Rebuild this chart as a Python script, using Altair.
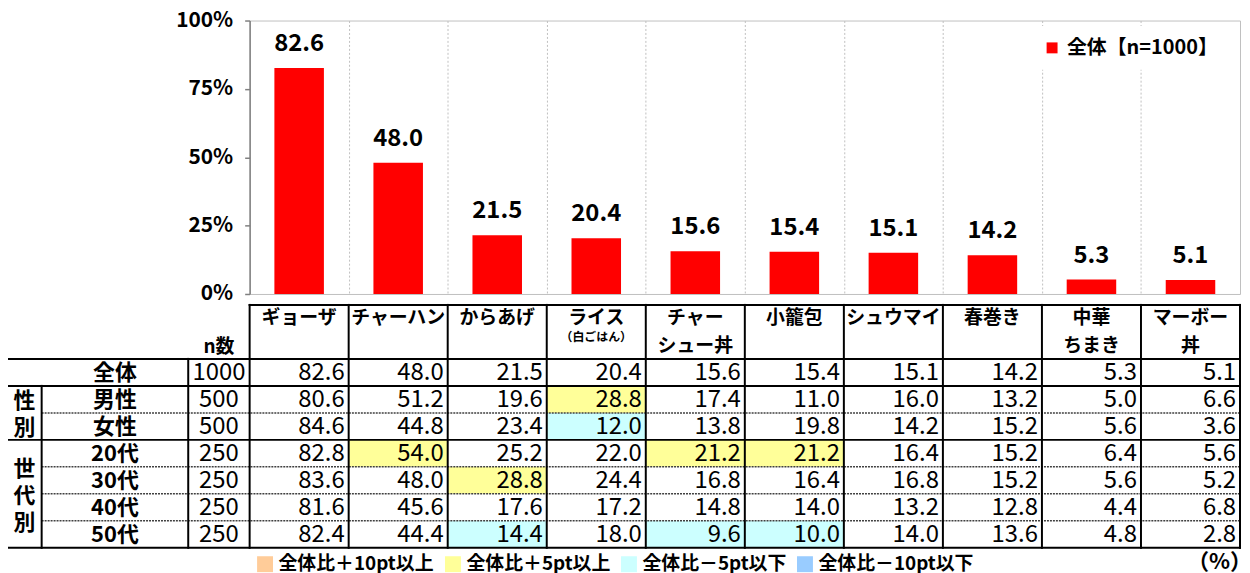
import altair as alt
import pandas as pd

FONT = "Noto Sans CJK JP"

# ---------------- data ----------------
FOODS = ["ギョーザ", "チャーハン", "からあげ", "ライス（白ごはん）", "チャーシュー丼",
         "小籠包", "シュウマイ", "春巻き", "中華ちまき", "マーボー丼"]
HEAD_LINE1 = ["ギョーザ", "チャーハン", "からあげ", "ライス", "チャー",
              "小籠包", "シュウマイ", "春巻き", "中華", "マーボー"]
HEAD_LINE2 = ["", "", "", "", "シュー丼", "", "", "", "ちまき", "丼"]
HEAD_NOTE = ["", "", "", "（白ごはん）", "", "", "", "", "", ""]

SERIES = "全体【n=1000】"
GROUPS = ["全体", "男性", "女性", "20代", "30代", "40代", "50代"]
N_VALUES = [1000, 500, 500, 250, 250, 250, 250]

V_ALL = [82.6, 48.0, 21.5, 20.4, 15.6, 15.4, 15.1, 14.2, 5.3, 5.1]
V_MALE = [80.6, 51.2, 19.6, 28.8, 17.4, 11.0, 16.0, 13.2, 5.0, 6.6]
V_FEMALE = [84.6, 44.8, 23.4, 12.0, 13.8, 19.8, 14.2, 15.2, 5.6, 3.6]
V_20 = [82.8, 54.0, 25.2, 22.0, 21.2, 21.2, 16.4, 15.2, 6.4, 5.6]
V_30 = [83.6, 48.0, 28.8, 24.4, 16.8, 16.4, 16.8, 15.2, 5.6, 5.2]
V_40 = [81.6, 45.6, 17.6, 17.2, 14.8, 14.0, 13.2, 12.8, 4.4, 6.8]
V_50 = [82.4, 44.4, 14.4, 18.0, 9.6, 10.0, 14.0, 13.6, 4.8, 2.8]
TABLE = [V_ALL, V_MALE, V_FEMALE, V_20, V_30, V_40, V_50]

GROUP_SIDE = [("性", "別"), ("世", "代", "別")]

CATS = ["全体比＋10pt以上", "全体比＋5pt以上", "全体比－5pt以下", "全体比－10pt以下"]
CAT_COLORS = ["#FFCC99", "#FFFF99", "#CCFFFF", "#99CCFF"]
UNIT_NOTE = "（%）"

# ---------------- layout constants (table structure, column units) -------
X_LEFT, X_GRP, X_N = -2.45, -2.10, -0.62
NCOL = len(FOODS)
HEADER_ROWS = 2
LAST_ROW = HEADER_ROWS + len(GROUPS)  # 9

XS = alt.Scale(domain=[0, NCOL], nice=False, zero=False)
YB = alt.Scale(domain=[0, 100], nice=False, zero=False)
YT = alt.Scale(domain=[0, LAST_ROW], range=[286, 530.3], nice=False, zero=False)

XAX = alt.Axis(values=list(range(1, NCOL)), grid=True, gridColor="#C0C0C0",
               gridDash=[2, 2], gridWidth=1, labels=False, ticks=False,
               domain=False, title=None)
YAX = alt.Axis(values=[0, 25, 50, 75, 100], labelExpr="datum.value + '%'",
               title=None, grid=False, domainColor="#808080", domainWidth=1.5,
               tickColor="#808080", tickSize=5, tickWidth=1.5, labelPadding=12,
               labelFont=FONT, labelFontSize=21, labelFontWeight="bold",
               labelColor="black")

# ---------------- frames ----------------
df_bar = pd.DataFrame({
    "food": FOODS,
    "value": V_ALL,
    "base": 0,
    "series": SERIES,
    "x0": [i + 0.25 for i in range(NCOL)],
    "x1": [i + 0.75 for i in range(NCOL)],
    "xc": [i + 0.5 for i in range(NCOL)],
})


def cat_of(diff):
    if diff >= 10:
        return CATS[0]
    if diff >= 5:
        return CATS[1]
    if diff <= -10:
        return CATS[3]
    if diff <= -5:
        return CATS[2]
    return None


cells = []
for gi, (g, vals) in enumerate(zip(GROUPS, TABLE)):
    r = HEADER_ROWS + gi
    for ci, v in enumerate(vals):
        d = round(v - V_ALL[ci], 1)
        cells.append({"group": g, "food": FOODS[ci], "v": v,
                      "x0": ci, "x1": ci + 1, "y0": r, "y1": r + 1,
                      "ym": r + 0.5, "cat": cat_of(d) if gi > 0 else None})
df_cells = pd.DataFrame(cells)
df_hl = df_cells.dropna(subset=["cat"])

hdr = []
for ci in range(NCOL):
    hdr.append({"x": ci + 0.5, "y": 0.48, "t": HEAD_LINE1[ci]})
    if HEAD_LINE2[ci]:
        hdr.append({"x": ci + 0.5, "y": 1.53, "t": HEAD_LINE2[ci]})
hdr.append({"x": X_N / 2, "y": 1.55, "t": "n数"})
df_hdr = pd.DataFrame(hdr)
df_note = pd.DataFrame([{"x": ci + 0.5, "y": 1.18, "t": HEAD_NOTE[ci]}
                        for ci in range(NCOL) if HEAD_NOTE[ci]])

df_rowlab = pd.DataFrame({
    "t": GROUPS,
    "x": [(X_GRP + X_N) / 2] * len(GROUPS),
    "y": [HEADER_ROWS + i + 0.5 for i in range(len(GROUPS))],
})
df_n = pd.DataFrame({
    "n": N_VALUES,
    "x": [X_N / 2] * len(GROUPS),
    "y": [HEADER_ROWS + i + 0.5 for i in range(len(GROUPS))],
})
side = []
for ch_i, ch in enumerate(GROUP_SIDE[0]):
    side.append({"t": ch, "y": HEADER_ROWS + 1 + ch_i + 0.5})
for ch_i, ch in enumerate(GROUP_SIDE[1]):
    side.append({"t": ch, "y": HEADER_ROWS + 3 + 1 + ch_i})
df_side = pd.DataFrame(side)
df_side["x"] = (X_LEFT + X_GRP) / 2

df_unit = pd.DataFrame([{"t": UNIT_NOTE, "x": NCOL, "y": LAST_ROW + 0.5}])

solid = [(0, NCOL, 0, 0)]
for c in range(NCOL + 1):
    solid.append((c, c, 0, LAST_ROW))
for xv in (X_LEFT, X_N):
    solid.append((xv, xv, HEADER_ROWS, LAST_ROW))
solid.append((X_GRP, X_GRP, HEADER_ROWS + 1, LAST_ROW))
for yv in (HEADER_ROWS, HEADER_ROWS + 1, HEADER_ROWS + 3, LAST_ROW):
    solid.append((X_LEFT, NCOL, yv, yv))
dotted = [(X_GRP, NCOL, yv, yv) for yv in (HEADER_ROWS + 2, HEADER_ROWS + 4,
                                            HEADER_ROWS + 5, HEADER_ROWS + 6)]
df_solid = pd.DataFrame(solid, columns=["x0", "x1", "y0", "y1"])
df_dot = pd.DataFrame(dotted, columns=["x0", "x1", "y0", "y1"])

# ---------------- bar part ----------------
bars = alt.Chart(df_bar).mark_bar(clip=False).encode(
    x=alt.X("x0:Q", scale=XS, axis=XAX),
    x2="x1:Q",
    y=alt.Y("value:Q", scale=YB, axis=YAX),
    y2="base:Q",
    color=alt.Color("series:N", scale=alt.Scale(domain=[SERIES], range=["#FF0000"]),
                    legend=alt.Legend(orient="none", legendX=785, legendY=5.5,
                                      title=None, symbolType="square",
                                      symbolSize=121, symbolStrokeWidth=0,
                                      labelFont=FONT, labelFontSize=20,
                                      labelFontWeight="bold", labelColor="black",
                                      labelOffset=5, padding=12,
                                      fillColor="white", labelLimit=400)),
)

bar_text = alt.Chart(df_bar).mark_text(
    baseline="alphabetic", dy=-17, font=FONT, fontSize=24, fontWeight="bold",
    color="black", clip=False).encode(
    x=alt.X("xc:Q", scale=XS, axis=XAX),
    y=alt.Y("value:Q", scale=YB, axis=YAX),
    text=alt.Text("value:Q", format=".1f"),
)

top = alt.layer(bars, bar_text)

# ---------------- table part ----------------
hl = alt.Chart(df_hl).mark_rect(clip=False).encode(
    x=alt.X("x0:Q", scale=XS, axis=XAX), x2="x1:Q",
    y=alt.Y("y0:Q", scale=YT, axis=None), y2="y1:Q",
    fill=alt.Fill("cat:N", scale=alt.Scale(domain=CATS, range=CAT_COLORS),
                  legend=alt.Legend(orient="none", legendX=6, legendY=537,
                                    direction="horizontal", columns=4,
                                    title=None, symbolType="square",
                                    symbolSize=256, symbolStrokeWidth=0,
                                    symbolOpacity=1,
                                    labelFont=FONT, labelFontSize=19,
                                    labelFontWeight="bold", labelColor="black",
                                    labelOffset=4, columnPadding=9,
                                    padding=0, labelLimit=400)),
)


def rules(df, **kw):
    return alt.Chart(df).mark_rule(clip=False, **kw).encode(
        x=alt.X("x0:Q", scale=XS, axis=XAX), x2="x1:Q",
        y=alt.Y("y0:Q", scale=YT, axis=None), y2="y1:Q")


solid_rules = rules(df_solid, color="black", strokeWidth=2, strokeCap="square")
dot_rules = rules(df_dot, color="#404040", strokeWidth=1.5, strokeDash=[2, 1])


def texts(df, field, fmt=None, **kw):
    t = alt.Text(f"{field}:Q", format=fmt) if fmt else alt.Text(f"{field}:N")
    opts = dict(font=FONT, color="black", clip=False, baseline="middle")
    opts.update(kw)
    return alt.Chart(df).mark_text(**opts).encode(
        x=alt.X("x:Q", scale=XS, axis=XAX),
        y=alt.Y("y:Q", scale=YT, axis=None),
        text=t)


hdr_text = texts(df_hdr, "t", fontSize=19, fontWeight="bold")
note_text = texts(df_note, "t", fontSize=12, fontWeight="bold")
row_text = texts(df_rowlab, "t", fontSize=22, fontWeight="bold", dy=1)
side_text = texts(df_side, "t", fontSize=22, fontWeight="bold", dy=2)
n_text = texts(df_n, "n", fmt="d", fontSize=24, dy=1)
unit_text = texts(df_unit, "t", fontSize=22, fontWeight="bold",
                  align="right", dx=12, dy=1)

val_text = alt.Chart(df_cells).mark_text(
    font=FONT, fontSize=24, color="black", align="right", baseline="middle",
    dx=-4, dy=1, clip=False).encode(
    x=alt.X("x1:Q", scale=XS, axis=XAX),
    y=alt.Y("ym:Q", scale=YT, axis=None),
    text=alt.Text("v:Q", format=".1f"),
)

table = alt.layer(hl, dot_rules, solid_rules, hdr_text, note_text, row_text,
                  side_text, n_text, val_text, unit_text)

chart = alt.layer(top, table).resolve_scale(y="independent").properties(
    width=996, height=275,
    autosize=alt.AutoSizeParams(type="none"),
    padding={"left": 243, "top": 11, "right": 2, "bottom": 279},
).configure_view(stroke="#BFBFBF", strokeWidth=1)

chart.save("out.html", embed_options={"renderer": "svg", "actions": False})
